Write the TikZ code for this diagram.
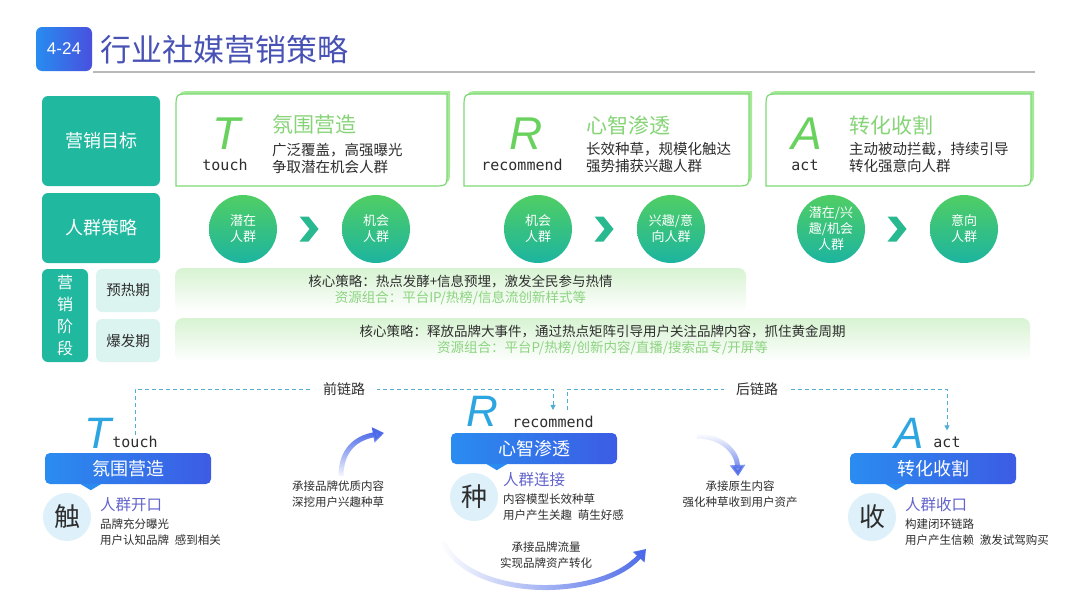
\documentclass[tikz,border=0pt]{standalone}
\usepackage{fontspec}
\setmainfont{Noto Sans CJK SC}
\newfontfamily\latinmono{DejaVu Sans Mono}
\newfontfamily\letterfont{Liberation Sans}
\usepackage{tikz}
\usetikzlibrary{arrows.meta,positioning,calc,fadings}
\usepackage{xcolor}
\definecolor{tealbox}{RGB}{33,184,160}
\definecolor{paleteal}{RGB}{220,244,240}
\definecolor{darktext}{RGB}{45,45,45}
\definecolor{titleblue}{RGB}{72,82,180}
\definecolor{badgeA}{RGB}{40,140,240}
\definecolor{badgeB}{RGB}{72,80,222}
\definecolor{cardgreen}{RGB}{125,218,118}
\definecolor{cardlight}{RGB}{165,232,150}
\definecolor{lettergreen}{RGB}{105,210,95}
\definecolor{headgreen}{RGB}{135,212,120}
\definecolor{circgreen}{RGB}{80,206,100}
\definecolor{circteal}{RGB}{28,180,160}
\definecolor{chevteal}{RGB}{40,185,145}
\definecolor{bandgreen}{RGB}{215,243,210}
\definecolor{resgreen}{RGB}{140,212,128}
\definecolor{chainblue}{RGB}{80,175,210}
\definecolor{banA}{RGB}{42,140,240}
\definecolor{banB}{RGB}{60,92,228}
\definecolor{letterblue}{RGB}{45,165,225}
\definecolor{palecirc}{RGB}{222,240,250}
\definecolor{purplehead}{RGB}{100,100,205}
\definecolor{flowblue}{RGB}{75,105,232}
\newcommand{\setfs}[2]{\fontsize{#1}{#2}\selectfont}

\begin{document}
\begin{tikzpicture}[x=1pt, y=-1pt,
    badge/.style={rectangle, rounded corners=6pt, minimum width=56, minimum height=44,
        left color=badgeA, right color=badgeB, text=white, font=\letterfont\setfs{17}{18}, inner sep=0pt},
    sidebox/.style={rectangle, rounded corners=6pt, fill=tealbox, text=white,
        font=\setfs{18}{22}, inner sep=0pt},
    phasebox/.style={rectangle, rounded corners=6pt, fill=paleteal, text=darktext,
        font=\setfs{14.5}{18}, inner sep=0pt, minimum width=64, minimum height=43},
    card/.style={draw=cardgreen, line width=1.2pt, fill=white},
    cardshadow/.style={fill=cardlight},
    bigL/.style={font=\letterfont\itshape\setfs{46}{46}, text=lettergreen, inner sep=0pt},
    subL/.style={font=\latinmono\setfs{15}{15}, text=darktext, inner sep=1pt},
    cardhead/.style={font=\setfs{21}{24}, text=headgreen, anchor=west, inner sep=0pt},
    cardtxt/.style={font=\setfs{14.5}{17}, text=darktext, anchor=west, align=left, inner sep=0pt},
    crowd/.style={circle, minimum size=68, inner sep=0pt, top color=circgreen, bottom color=circteal,
        text=white, font=\setfs{13}{16}, align=center},
    chev/.style={fill=chevteal},
    band/.style={rectangle, rounded corners=8pt, inner sep=0pt, top color=bandgreen, bottom color=white,
        align=center, font=\setfs{13.5}{16}, text=darktext, minimum height=44},
    chain/.style={draw=chainblue, line width=0.9pt, dash pattern=on 4pt off 3pt,
        -{Triangle[length=5pt,width=5pt]}, shorten >=5pt},
    chainlab/.style={fill=white, font=\setfs{14}{16}, text=darktext, inner xsep=12pt, inner ysep=2pt},
    banner/.style={rectangle, rounded corners=5pt, minimum width=166, minimum height=31,
        left color=banA, right color=banB, text=white, font=\setfs{18}{20}, inner sep=0pt},
    tip/.style={fill=banA},
    bigB/.style={font=\letterfont\itshape\setfs{44}{44}, text=letterblue, inner sep=0pt},
    seal/.style={circle, minimum size=48, fill=palecirc, font=\setfs{26}{28}, text=darktext, inner sep=0pt},
    grouphead/.style={font=\setfs{15.5}{18}, text=purplehead, anchor=west, inner sep=0pt},
    grouptxt/.style={font=\setfs{11.5}{16}, text=darktext, anchor=west, align=left, inner sep=0pt},
    flowtxt/.style={font=\setfs{11.5}{15.5}, text=darktext, align=center, inner sep=0pt},
    flow/.style={line width=5pt, draw=flowblue, -{Triangle[length=11pt,width=15pt]}}
]
    \useasboundingbox (0,0) rectangle (1080,608);
    \fill[white] (0,0) rectangle (1080,608);

    % Title
    \node[badge] (num) at (64,49) {4-24};
    \node[anchor=west, font=\setfs{31}{33}, text=titleblue, inner sep=0pt] (title) at (100,50) {行业社媒营销策略};
    \draw[gray!55, line width=1.2pt] (93,72) -- (1035,72);

    % Row labels
    \node[sidebox, minimum width=118, minimum height=90] (goal) at (101,141) {营销目标};
    \node[sidebox, minimum width=118, minimum height=70] (crowd) at (101,228) {人群策略};
    \node[sidebox, minimum width=46, minimum height=93, font=\setfs{16}{22}, align=center] (stage) at (65,315.5) {营\\销\\阶\\段};
    \node[phasebox] (warm) at (128,290.5) {预热期};
    \node[phasebox] (burst) at (128,340.5) {爆发期};

    % Goal cards (T / R / A)
    \fill[cardshadow, shift={(3,-3)}] (176,186) -- (176,108) .. controls (176,94) .. (190,94) -- (447,94) -- (447,172) .. controls (447,186) .. (433,186) -- cycle;
    \draw[card] (176,186) -- (176,108) .. controls (176,94) .. (190,94) -- (447,94) -- (447,172) .. controls (447,186) .. (433,186) -- cycle;
    \fill[cardshadow, shift={(3,-3)}] (464,186) -- (464,108) .. controls (464,94) .. (478,94) -- (749,94) -- (749,172) .. controls (749,186) .. (735,186) -- cycle;
    \draw[card] (464,186) -- (464,108) .. controls (464,94) .. (478,94) -- (749,94) -- (749,172) .. controls (749,186) .. (735,186) -- cycle;
    \fill[cardshadow, shift={(3,-3)}] (766,186) -- (766,108) .. controls (766,94) .. (780,94) -- (1031,94) -- (1031,172) .. controls (1031,186) .. (1017,186) -- cycle;
    \draw[card] (766,186) -- (766,108) .. controls (766,94) .. (780,94) -- (1031,94) -- (1031,172) .. controls (1031,186) .. (1017,186) -- cycle;

    \node[bigL] (T1) at (227,134) {T};
    \node[subL] (touch1) at (225,165) {touch};
    \node[cardhead] (head1) at (272,125) {氛围营造};
    \node[cardtxt] (text1) at (272,158) {广泛覆盖，高强曝光\\争取潜在机会人群};

    \node[bigL] (R1) at (526,134) {R};
    \node[subL] (recommend1) at (522,165) {recommend};
    \node[cardhead] (head2) at (586,125) {心智渗透};
    \node[cardtxt] (text2) at (586,158) {长效种草，规模化触达\\强势捕获兴趣人群};

    \node[bigL] (A1) at (807,134) {A};
    \node[subL] (act1) at (805,165) {act};
    \node[cardhead] (head3) at (849,125) {转化收割};
    \node[cardtxt] (text3) at (849,158) {主动被动拦截，持续引导\\转化强意向人群};

    % Crowd circles
    \node[crowd] (c1) at (243,229) {潜在\\人群};
    \node[crowd] (c2) at (376,229) {机会\\人群};
    \node[crowd] (c3) at (538,229) {机会\\人群};
    \node[crowd] (c4) at (671,229) {兴趣/意\\向人群};
    \node[crowd] (c5) at (831,229) {潜在/兴\\趣/机会\\人群};
    \node[crowd] (c6) at (964,229) {意向\\人群};
    \fill[chev] ($(c1)!0.5!(c2)$) ++(-10,-12.5) -- ++(9,0) -- ++(10,12.5) -- ++(-10,12.5) -- ++(-9,0) -- ++(10,-12.5) -- cycle;
    \fill[chev] ($(c3)!0.5!(c4)$) ++(-10,-12.5) -- ++(9,0) -- ++(10,12.5) -- ++(-10,12.5) -- ++(-9,0) -- ++(10,-12.5) -- cycle;
    \fill[chev] ($(c5)!0.5!(c6)$) ++(-10,-12.5) -- ++(9,0) -- ++(10,12.5) -- ++(-10,12.5) -- ++(-9,0) -- ++(10,-12.5) -- cycle;

    % Stage bands
    \node[band, minimum width=571] (band1) at (460.5,290) {核心策略：热点发酵+信息预埋，激发全民参与热情\\\textcolor{resgreen}{资源组合：平台IP/热榜/信息流创新样式等}};
    \node[band, minimum width=855] (band2) at (602.5,340) {核心策略：释放品牌大事件，通过热点矩阵引导用户关注品牌内容，抓住黄金周期\\\textcolor{resgreen}{资源组合：平台P/热榜/创新内容/直播/搜索品专/开屏等}};

    % Bottom: T
    \node[bigB] (T2) at (98,433) {T};
    \node[subL] (touch2) at (135,442) {touch};
    \node[banner] (banT) at (128,468.5) {氛围营造};
    \fill[tip] ([xshift=36pt]banT.south west) -- ++(20,0) -- ++(-10,6) -- cycle;
    \node[seal] (seal1) at (67,517) {触};
    \node[grouphead] (gh1) at (100,505) {人群开口};
    \node[grouptxt] (gt1) at (100,532) {品牌充分曝光\\用户认知品牌\enspace 感到相关};

    % Bottom: R
    \node[bigB] (R2) at (482,411) {R};
    \node[subL] (recommend2) at (553,422) {recommend};
    \node[banner] (banR) at (534,448.5) {心智渗透};
    \fill[tip] ([xshift=36pt]banR.south west) -- ++(20,0) -- ++(-10,6) -- cycle;
    \node[seal] (seal2) at (474,497) {种};
    \node[grouphead] (gh2) at (503,480) {人群连接};
    \node[grouptxt] (gt2) at (503,507) {内容模型长效种草\\用户产生关趣\enspace 萌生好感};

    % Bottom: A
    \node[bigB] (A2) at (909,433) {A};
    \node[subL] (act2) at (947,442) {act};
    \node[banner] (banA) at (933,468.5) {转化收割};
    \fill[tip] ([xshift=36pt]banA.south west) -- ++(20,0) -- ++(-10,6) -- cycle;
    \node[seal] (seal3) at (872,517) {收};
    \node[grouphead] (gh3) at (905,505) {人群收口};
    \node[grouptxt] (gt3) at (905,532) {构建闭环链路\\用户产生信赖\enspace 激发试驾购买};

    % Chains
    \draw[chain] (touch2.north) |- node[chainlab, pos=0.75] {前链路} (recommend2.north |- 0,389) -- (recommend2.north);
    \draw[chain, shorten <=5pt] ([xshift=14pt]recommend2.north) |- node[chainlab, pos=0.75] {后链路} (act2.north |- 0,389) -- (act2.north);

    % Flow arrows
    \coordinate (f1a) at (341,476);
    \coordinate (f1b) at (384,433);
    \coordinate (f2a) at (697,436);
    \coordinate (f2b) at (738,476);
    \coordinate (f3a) at (443,542);
    \coordinate (f3b) at (646,549);
    \draw[flow, path fading=south] (f1a) .. controls (341,450) and (356,438) .. (f1b);
    \draw[flow, path fading=north] (f2a) .. controls (722,436) and (737,452) .. (f2b);
    \draw[flow, path fading=west] (f3a) .. controls (470,600) and (600,600) .. (f3b);
    \node[flowtxt] (ft1) at (338,494) {承接品牌优质内容\\深挖用户兴趣种草};
    \node[flowtxt] (ft2) at (740,494) {承接原生内容\\强化种草收到用户资产};
    \node[flowtxt] (ft3) at (546,555) {承接品牌流量\\实现品牌资产转化};
\end{tikzpicture}
\end{document}
